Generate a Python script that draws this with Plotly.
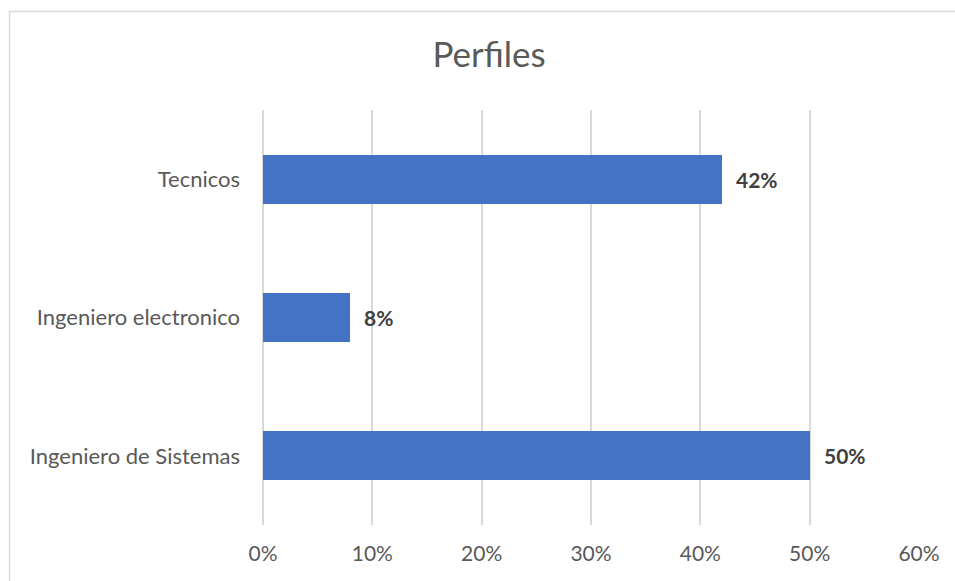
import plotly.graph_objects as go

categories = ["Ingeniero de Sistemas", "Ingeniero electronico", "Tecnicos"]
values = [0.50, 0.08, 0.42]
tick_values = [0, 0.1, 0.2, 0.3, 0.4, 0.5, 0.6]
tick_labels = ["0%", "10%", "20%", "30%", "40%", "50%", "60%"]
title_text = "Perfiles"

W, H = 955, 581
ml, mt = 263, 110
mr = 955 - 919
mb = 581 - 525
pw, ph = W - ml - mr, H - mt - mb

font_family = "Lato, 'Open Sans', sans-serif"
gray = "#595959"
grid = "#D9D9D9"

fig = go.Figure(
    go.Bar(
        x=values,
        y=categories,
        orientation="h",
        marker=dict(color="#4472C4", line=dict(width=0)),
        width=0.355,
        hoverinfo="skip",
    )
)

for c, v in zip(categories, values):
    fig.add_annotation(
        x=v, y=c, xref="x", yref="y",
        text=f"<b>{round(v*100)}%</b>",
        showarrow=False, xanchor="left", xshift=12,
        font=dict(family=font_family, size=21, color="#404040"),
    )

# chart border (extends beyond the visible area on right and bottom)
fig.add_shape(
    type="rect", xref="paper", yref="paper",
    x0=(9.5 - ml) / pw, x1=(W + 20 - ml) / pw,
    y0=(ph + mt - (H + 20)) / ph, y1=(ph + mt - 11.5) / ph,
    line=dict(color=grid, width=1.5), fillcolor="rgba(0,0,0,0)", layer="below",
)

fig.update_layout(
    width=W, height=H,
    margin=dict(l=ml, r=mr, t=mt, b=mb),
    paper_bgcolor="white", plot_bgcolor="white",
    showlegend=False,
    title=dict(
        text=title_text, x=489 / W, xanchor="center",
        y=1 - 55 / H, yanchor="middle",
        font=dict(family=font_family, size=35, color=gray),
    ),
    xaxis=dict(
        range=[0, 0.6], tickvals=tick_values, ticktext=tick_labels,
        showgrid=True, gridcolor=grid, gridwidth=1.5,
        zeroline=True, zerolinecolor=grid, zerolinewidth=1.5,
        showline=False, ticks="", ticklabelstandoff=14,
        tickfont=dict(family=font_family, size=21, color=gray),
        fixedrange=True,
    ),
    yaxis=dict(
        categoryorder="array", categoryarray=categories,
        showgrid=False, zeroline=False, showline=False, ticks="",
        ticklabelstandoff=22,
        tickfont=dict(family=font_family, size=22, color=gray),
        fixedrange=True,
    ),
    bargap=0.0,
)

fig.write_html(
    "out.html",
    config={"displayModeBar": False},
    post_script="document.body.style.margin='0';document.body.style.overflow='hidden';",
)
